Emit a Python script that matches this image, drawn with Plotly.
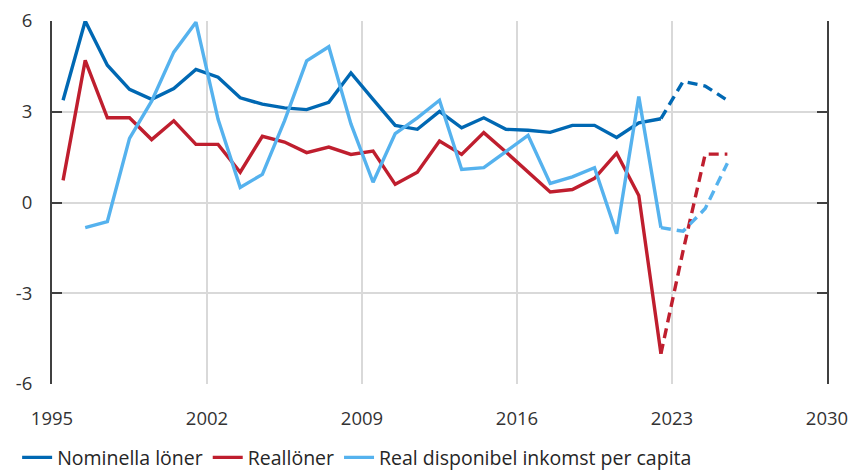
import plotly.graph_objects as go

# ---- data (annual % change), plotted at mid-year ----
years = list(range(1995, 2023))
nominella = [3.38, 6.0, 4.54, 3.74, 3.41, 3.77, 4.40, 4.14, 3.46, 3.25, 3.13, 3.07, 3.31, 4.28,
             3.41, 2.55, 2.42, 3.01, 2.47, 2.80, 2.42, 2.39, 2.32, 2.55, 2.55, 2.15, 2.63, 2.77]
reallon = [0.73, 4.70, 2.80, 2.80, 2.08, 2.70, 1.92, 1.92, 1.00, 2.19, 2.00, 1.65, 1.83, 1.59,
           1.70, 0.60, 1.00, 2.03, 1.59, 2.31, 1.67, 1.00, 0.35, 0.43, 0.80, 1.63, 0.23, -5.00]
years_rdi = list(range(1996, 2023))
real_disp = [-0.83, -0.63, 2.12, 3.35, 4.97, 5.96, 2.75, 0.50, 0.93, 2.70, 4.68, 5.15, 2.60,
             0.67, 2.28, 2.80, 3.38, 1.09, 1.15, 1.67, 2.22, 0.63, 0.85, 1.15, -1.03, 3.50, -0.83]

# forecast (dashed)
years_f = [2022, 2023, 2024, 2025]
nominella_f = [2.77, 4.00, 3.85, 3.38]
reallon_f = [-5.00, -1.60, 1.60, 1.60]
real_disp_f = [-0.83, -0.95, -0.20, 1.30]

x_ticks = [1995, 2002, 2009, 2016, 2023, 2030]
y_ticks = [-6, -3, 0, 3, 6]

names = ["Nominella löner", "Reallöner", "Real disponibel inkomst per capita"]
colors = ["#0068b3", "#bf1e2e", "#55b2ee"]

def mid(ys):
    return [y + 0.5 for y in ys]

fig = go.Figure()
hist = [(years, nominella), (years, reallon), (years_rdi, real_disp)]
fc = [nominella_f, reallon_f, real_disp_f]
for (yrs, vals), name, col in zip(hist, names, colors):
    fig.add_trace(go.Scatter(x=mid(yrs), y=vals, mode="lines", name=name,
                             line=dict(color=col, width=3.4), legendgroup=name))
for fvals, name, col in zip(fc, names, colors):
    fig.add_trace(go.Scatter(x=mid(years_f), y=fvals, mode="lines", name=name,
                             line=dict(color=col, width=3.4, dash="10px,6px"),
                             legendgroup=name, showlegend=False))

fig.update_layout(
    width=851, height=470,
    margin=dict(l=52, r=24, t=21, b=86, autoexpand=False),
    plot_bgcolor="white", paper_bgcolor="white",
    font=dict(family="Open Sans, sans-serif", size=18.5, color="#333333"),
    showlegend=True,
    legend=dict(orientation="h", x=-0.045, xanchor="left", y=-0.203, yanchor="middle",
                font=dict(size=19.5, color="#262626"), itemwidth=30,
                bgcolor="rgba(0,0,0,0)", tracegroupgap=0),
)
fig.update_xaxes(range=[1995, 2030], tickvals=x_ticks, ticktext=[str(v) for v in x_ticks],
                 showgrid=True, gridcolor="#d9d9d9", gridwidth=2, automargin=False,
                 ticklabeloverflow="allow",
                 showline=False, zeroline=False, ticks="", ticklabelstandoff=21)
fig.update_yaxes(range=[-6, 6], tickvals=y_ticks, ticktext=[str(v) for v in y_ticks],
                 showgrid=True, gridcolor="#d9d9d9", gridwidth=2, automargin=False,
                 ticklabeloverflow="allow",
                 zeroline=False, showline=True, linecolor="#404040", linewidth=2,
                 mirror="ticks", ticks="inside", ticklen=10, tickwidth=2, tickcolor="#404040",
                 ticklabelstandoff=14)

# remove the default 8px page margin so the 851x470 figure fills the window exactly
fig.write_html("out.html", config={"displayModeBar": False},
               post_script="document.body.style.margin='0';")
